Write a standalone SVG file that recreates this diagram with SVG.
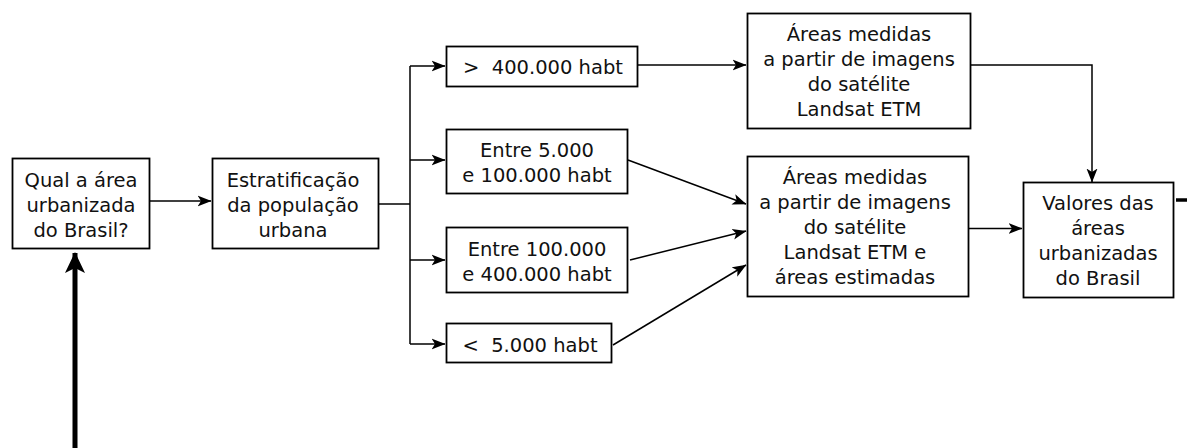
<svg xmlns="http://www.w3.org/2000/svg" width="1187" height="448" viewBox="0 0 1187 448">
<defs>
<style>
.box{fill:#fff;stroke:#000;stroke-width:1.8}
.t{font-family:"DejaVu Sans",sans-serif;font-size:19.5px;fill:#111;text-anchor:middle;white-space:pre}
.c{fill:none;stroke:#000;stroke-width:1.5}
</style>
<marker id="ah" viewBox="0 -6 14 12" refX="13.5" refY="0" markerWidth="14" markerHeight="12" markerUnits="userSpaceOnUse" orient="auto">
<path d="M0,-5.5 L14,0 L0,5.5 L3.5,0 Z" fill="#000"/>
</marker>
<marker id="ahb" viewBox="0 -10 21 20" refX="20" refY="0" markerWidth="21" markerHeight="20" markerUnits="userSpaceOnUse" orient="auto">
<path d="M0,-10 L21,0 L0,10 L5,0 Z" fill="#000"/>
</marker>
</defs>
<g id="connectors">
<path class="c" d="M149,201 H211" marker-end="url(#ah)"/>
<path class="c" d="M378,204 H410"/>
<path class="c" d="M410,66 V344"/>
<path class="c" d="M410,66 H445" marker-end="url(#ah)"/>
<path class="c" d="M410,160 H445" marker-end="url(#ah)"/>
<path class="c" d="M410,260 H445" marker-end="url(#ah)"/>
<path class="c" d="M410,344 H445" marker-end="url(#ah)"/>
<path class="c" d="M637,65 H746" marker-end="url(#ah)"/>
<path class="c" d="M628,160 L746,204" marker-end="url(#ah)"/>
<path class="c" d="M630,260 L746,231" marker-end="url(#ah)"/>
<path class="c" d="M613,345 L746,265" marker-end="url(#ah)"/>
<path class="c" d="M971,65 H1092 V182" marker-end="url(#ah)"/>
<path class="c" d="M967,228.5 H1022" marker-end="url(#ah)"/>
<path d="M75,448 V253" fill="none" stroke="#000" stroke-width="5" marker-end="url(#ahb)"/>
<path d="M1176,200 H1187" fill="none" stroke="#000" stroke-width="3.5"/>
</g>
<g id="n1">
<rect class="box" x="12.5" y="158.5" width="137" height="90"/>
<text class="t" x="81" y="187">Qual a área</text>
<text class="t" x="81" y="212">urbanizada</text>
<text class="t" x="81" y="237">do Brasil?</text>
</g>
<g id="n2">
<rect class="box" x="212.5" y="158.5" width="166" height="90"/>
<text class="t" x="293" y="187">Estratificação</text>
<text class="t" x="293" y="212">da população</text>
<text class="t" x="293" y="237">urbana</text>
</g>
<g id="n3">
<rect class="box" x="446.5" y="46.5" width="191" height="40"/>
<text class="t" x="543" y="74">&gt;  400.000 habt</text>
</g>
<g id="n4">
<rect class="box" x="446.5" y="129.5" width="181" height="64"/>
<text class="t" x="537" y="157">Entre 5.000</text>
<text class="t" x="537" y="182">e 100.000 habt</text>
</g>
<g id="n5">
<rect class="box" x="446.5" y="227.5" width="181" height="65"/>
<text class="t" x="537" y="256">Entre 100.000</text>
<text class="t" x="537" y="281">e 400.000 habt</text>
</g>
<g id="n6">
<rect class="box" x="446.5" y="323.5" width="165" height="39"/>
<text class="t" x="530" y="351.5">&lt;  5.000 habt</text>
</g>
<g id="n7">
<rect class="box" x="747.5" y="13.5" width="223" height="115"/>
<text class="t" x="859" y="41">Áreas medidas</text>
<text class="t" x="859" y="66">a partir de imagens</text>
<text class="t" x="859" y="91">do satélite</text>
<text class="t" x="859" y="116">Landsat ETM</text>
</g>
<g id="n8">
<rect class="box" x="747.5" y="156.5" width="221" height="140"/>
<text class="t" x="855" y="184">Áreas medidas</text>
<text class="t" x="855" y="209">a partir de imagens</text>
<text class="t" x="855" y="234">do satélite</text>
<text class="t" x="855" y="259">Landsat ETM e</text>
<text class="t" x="855" y="284">áreas estimadas</text>
</g>
<g id="n9">
<rect class="box" x="1023.5" y="182.5" width="150" height="115"/>
<text class="t" x="1098" y="210">Valores das</text>
<text class="t" x="1098" y="235">áreas</text>
<text class="t" x="1098" y="260">urbanizadas</text>
<text class="t" x="1098" y="285">do Brasil</text>
</g>
</svg>
